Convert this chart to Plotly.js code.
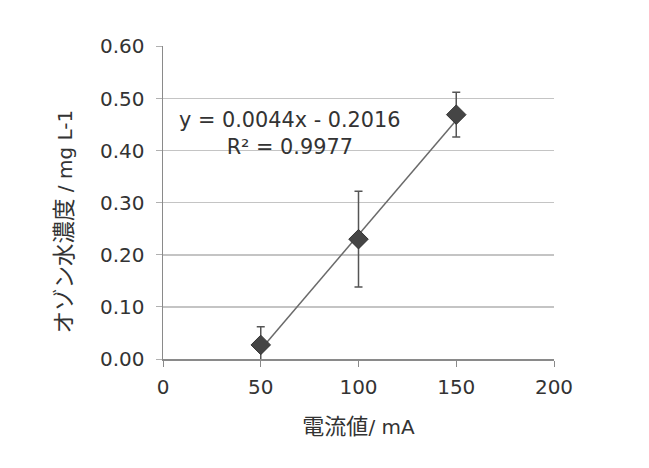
<!DOCTYPE html>
<html><head><meta charset="utf-8">
<script src="https://cdn.plot.ly/plotly-3.0.1.min.js"></script>
<style>html,body{margin:0;padding:0;background:#fff}#chart{width:649px;height:468px}</style>
</head><body><div id="chart"></div>
<script>
const currents = [50, 100, 150];
const ozone = [0.027, 0.230, 0.469];
const errors = [0.035, 0.092, 0.043];
const trendSlope = 0.0044;
const trendIntercept = -0.2016;
const trendX = [50, 150];
const xTicks = [0, 50, 100, 150, 200];
const yTicks = [0, 0.1, 0.2, 0.3, 0.4, 0.5, 0.6];
const eqText = "y = 0.0044x - 0.2016<br>R² = 0.9977";
const xTitle = '<span style="font-size:22px">電流値</span>/ mA';
const yTitle = '<span style="font-size:22.5px">オゾン水濃度</span> / mg L-1';

const FONT = "DejaVu Sans, Noto Sans CJK JP, sans-serif";
const txt = "#333333";

const traces = [
  {x: trendX, y: trendX.map(v => trendSlope*v + trendIntercept), mode: "lines",
   line: {color: "#6a6a6a", width: 1.5}, hoverinfo: "skip", showlegend: false},
  {x: currents, y: ozone, mode: "markers",
   marker: {symbol: "diamond", size: 15, color: "#454545", line: {color: "#333", width: 1}},
   error_y: {type: "data", array: errors, visible: true, color: "#555", thickness: 1.5, width: 4},
   showlegend: false}
];

const layout = {
  width: 649, height: 468,
  margin: {l: 163, r: 95, t: 46, b: 109},
  paper_bgcolor: "#fff", plot_bgcolor: "#fff",
  font: {family: FONT, color: txt, size: 20},
  xaxis: {range: [0, 200], tickvals: xTicks, ticktext: xTicks.map(String),
    showgrid: false, zeroline: false, showline: true, linecolor: "#8a8a8a", linewidth: 1.5,
    ticks: "outside", ticklen: 6, tickcolor: "#8a8a8a", tickfont: {size: 20, color: txt},
    ticklabelstandoff: 3,
    title: {text: xTitle, font: {size: 20, color: txt}, standoff: 22}},
  yaxis: {range: [0, 0.6008], tickvals: yTicks, ticktext: yTicks.map(v => v.toFixed(2)),
    showgrid: true, gridcolor: "#c4c4c4", gridwidth: 1.5, zeroline: false,
    showline: true, linecolor: "#8a8a8a", linewidth: 1.5,
    ticks: "outside", ticklen: 6, tickcolor: "#b0b0b0", tickfont: {size: 20, color: txt},
    ticklabelstandoff: 7},
  annotations: [
    {x: 65, y: 0.432, xref: "x", yref: "y", xanchor: "center", yanchor: "middle",
     text: eqText, showarrow: false, align: "center", font: {size: 20.8, color: txt}},
    {x: 0, y: 0.5, xref: "paper", yref: "paper", xanchor: "center", yanchor: "middle",
     xshift: -100, yshift: -19, textangle: -90,
     text: yTitle, showarrow: false, font: {size: 20, color: txt}}
  ]
};
Plotly.newPlot("chart", traces, layout, {displayModeBar: false, staticPlot: true});
</script></body></html>
